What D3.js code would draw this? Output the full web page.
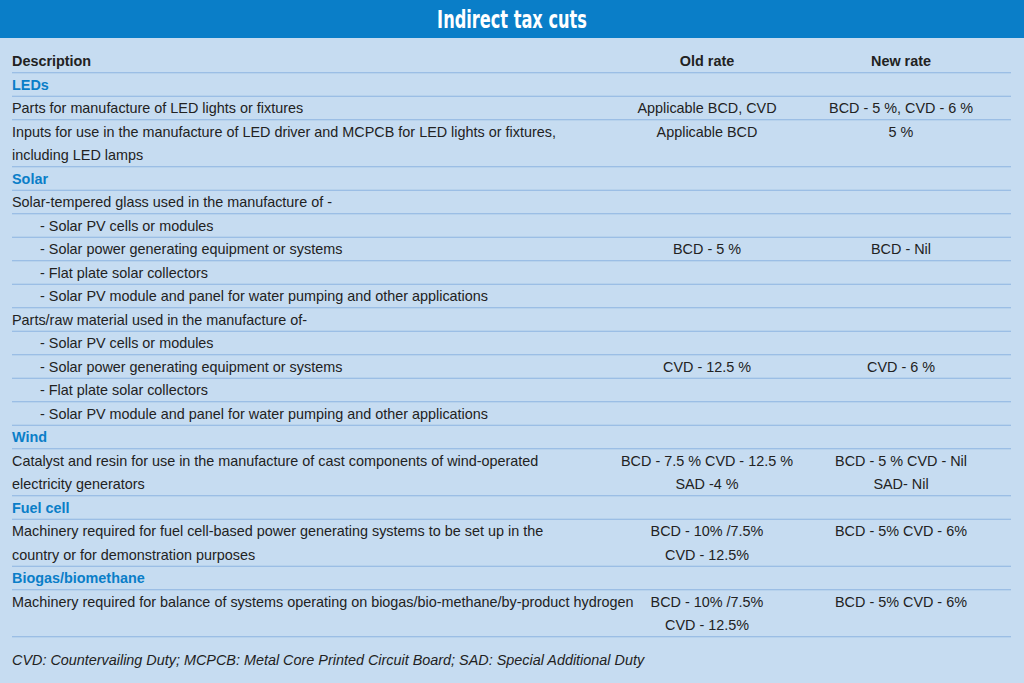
<!DOCTYPE html>
<html>
<head>
<meta charset="utf-8">
<script src="https://cdn.jsdelivr.net/npm/d3@7"></script>
<style>
  body { margin: 0; background: #c6dcf1; }
  svg { display: block; }
</style>
</head>
<body>
<div id="chart-area"></div>
<script>
// table content, one entry per text line
var descLines = [
    "Description", "LEDs", "Parts for manufacture of LED lights or fixtures",
    "Inputs for use in the manufacture of LED driver and MCPCB for LED lights or fixtures,",
    "including LED lamps", "Solar", "Solar-tempered glass used in the manufacture of -",
    "- Solar PV  cells or modules", "- Solar power generating equipment or systems",
    "- Flat plate solar collectors", "- Solar PV module and panel for water pumping and other applications",
    "Parts/raw material used in the manufacture of-", "- Solar PV cells or modules",
    "- Solar power generating equipment or systems", "- Flat plate solar collectors",
    "- Solar PV module and panel for water pumping and other applications",
    "Wind", "Catalyst and resin for use in the manufacture of cast components of wind-operated",
    "electricity generators", "Fuel cell",
    "Machinery required for fuel cell-based power generating systems to be set up in the",
    "country or for demonstration purposes", "Biogas/biomethane",
    "Machinery required for balance of systems operating on biogas/bio-methane/by-product hydrogen", ""
];
// 0 header, 1 section, 2 normal, 3 indented
var lineKinds = [0,1,2,2,2,1,2,3,3,3,3,2,3,3,3,3,1,2,2,1,2,2,1,2,2];
var oldRate = {0:"Old rate",2:"Applicable BCD, CVD",3:"Applicable BCD",8:"BCD - 5 %",13:"CVD - 12.5 %",
    17:"BCD - 7.5 % CVD - 12.5 %",18:"SAD -4 %",20:"BCD - 10% /7.5%",21:"CVD - 12.5%",23:"BCD - 10% /7.5%",24:"CVD - 12.5%"};
var newRate = {0:"New rate",2:"BCD - 5 %, CVD - 6 %",3:"5 %",8:"BCD - Nil",13:"CVD - 6 %",
    17:"BCD - 5 % CVD - Nil",18:"SAD- Nil",20:"BCD - 5% CVD - 6%",23:"BCD - 5% CVD - 6%"};
// separator drawn below these line indices
var separators = [0,1,2,4,5,6,7,8,9,10,11,12,13,14,15,16,18,19,21,22,24];
var footnote = "CVD: Countervailing Duty; MCPCB: Metal Core Printed Circuit Board; SAD: Special Additional Duty";

var W = 1024, H = 683;
var svg = d3.select("#chart-area").append("svg").attr("width", W).attr("height", H);
var y = d3.scaleLinear().domain([0, 24]).range([61, 625]);
var col = {old: 707, nw: 901};

svg.append("rect").attr("width", W).attr("height", H).attr("fill", "#c6dcf1");
svg.append("rect").attr("width", W).attr("height", 38).attr("fill", "#0a7ec8");
svg.append("text").attr("transform", "translate(512,28) scale(0.72,1)")
    .attr("text-anchor", "middle")
    .attr("fill", "#fff").attr("font-family", "DejaVu Sans Condensed, DejaVu Sans")
    .attr("font-weight", "bold").attr("font-size", 25)
    .text("Indirect tax cuts");

svg.selectAll("line.sep").data(separators).enter().append("line")
    .attr("x1", 12).attr("x2", 1011)
    .attr("y1", function(d){ return y(d + 0.5); })
    .attr("y2", function(d){ return y(d + 0.5); })
    .attr("stroke", "#8db5e0").attr("stroke-width", 1.2);

var font = "Liberation Sans, Arial, sans-serif";
svg.selectAll("text.desc").data(descLines).enter().append("text")
    .attr("x", function(d, i){ return lineKinds[i] == 3 ? 40 : 12; })
    .attr("y", function(d, i){ return y(i) + 5; })
    .attr("font-family", font).attr("font-size", 14.4)
    .attr("font-weight", function(d, i){ return lineKinds[i] < 2 ? "bold" : "normal"; })
    .attr("fill", function(d, i){ return lineKinds[i] == 1 ? "#0a7ec8" : "#222"; })
    .text(function(d){ return d; });

function rateCol(obj, x){
    var entries = Object.keys(obj).map(function(k){ return [+k, obj[k]]; });
    svg.selectAll(null).data(entries).enter().append("text")
        .attr("x", x).attr("y", function(d){ return y(d[0]) + 5; })
        .attr("text-anchor", "middle").attr("font-family", font).attr("font-size", 14.4)
        .attr("font-weight", function(d){ return d[0] == 0 ? "bold" : "normal"; })
        .attr("fill", "#222").text(function(d){ return d[1]; });
}
rateCol(oldRate, col.old);
rateCol(newRate, col.nw);

svg.append("text").attr("x", 12).attr("y", 665).attr("font-family", font)
    .attr("font-size", 14.4).attr("font-style", "italic").attr("fill", "#222").text(footnote);
</script>
</body>
</html>
